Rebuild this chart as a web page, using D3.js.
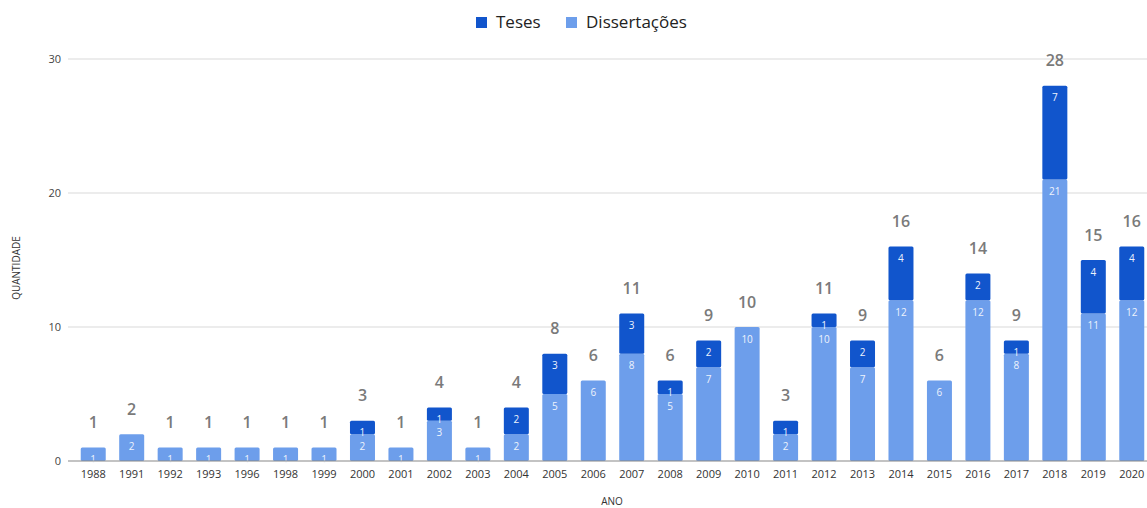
<!DOCTYPE html>
<html>
<head>
<meta charset="utf-8">
<script src="https://cdn.jsdelivr.net/npm/d3@7"></script>
<style>
  body { margin: 0; background: #fff; }
  svg { display: block; font-family: "Open Sans", sans-serif; }
</style>
</head>
<body>
<svg id="chart"></svg>
<script>
const years = ["1988","1991","1992","1993","1996","1998","1999","2000","2001","2002","2003","2004","2005","2006",
               "2007","2008","2009","2010","2011","2012","2013","2014","2015","2016","2017","2018","2019","2020"];
const dissertacoes = [1,2,1,1,1,1,1,2,1,3,1,2,5,6,8,5,7,10,2,10,7,12,6,12,8,21,11,12];
const teses        = [0,0,0,0,0,0,0,1,0,1,0,2,3,0,3,1,2,0,1,1,2,4,0,2,1,7,4,4];
const yTicks = [0, 10, 20, 30];
const seriesNames = ["Dissertações", "Teses"];

const width = 1147, height = 508;
const colors = { "Teses": "#1155cc", "Dissertações": "#6d9eeb" };

const svg = d3.select("#chart")
    .attr("width", width)
    .attr("height", height)
    .attr("viewBox", [0, 0, width, height]);

const rows = years.map((y, i) => ({ year: y, "Dissertações": dissertacoes[i], "Teses": teses[i] }));
const stacked = d3.stack().keys(seriesNames)(rows);

const x = d3.scaleBand(years, [74, 1151]).paddingInner(0.35).paddingOuter(0.175);
const y = d3.scaleLinear([0, 30], [461, 59]);

// gridlines
svg.append("g")
    .selectAll("line")
    .data(yTicks.filter(d => d > 0))
    .join("line")
        .attr("x1", 68)
        .attr("x2", width)
        .attr("y1", d => y(d))
        .attr("y2", d => y(d))
        .attr("stroke", "#d9d9d9")
        .attr("stroke-width", 1);

// y labels
svg.append("g")
    .selectAll("text")
    .data(yTicks)
    .join("text")
        .attr("x", 61)
        .attr("y", d => y(d))
        .attr("dy", "0.35em")
        .attr("text-anchor", "end")
        .attr("font-size", 11)
        .attr("fill", "#444")
        .text(d => d);

// bars
const layers = svg.append("g")
    .selectAll("g")
    .data(stacked)
    .join("g")
        .attr("fill", d => colors[d.key]);

layers.selectAll("rect")
    .data(d => d.filter(s => s[1] > s[0]))
    .join("rect")
        .attr("x", d => x(d.data.year))
        .attr("y", d => y(d[1]))
        .attr("width", x.bandwidth())
        .attr("height", d => y(d[0]) - y(d[1]))
        .attr("rx", 1.5);

// segment labels
layers.selectAll("text")
    .data(d => d.filter(s => s[1] > s[0]))
    .join("text")
        .attr("x", d => x(d.data.year) + x.bandwidth() / 2)
        .attr("y", d => y(d[1]) + 12)
        .attr("dy", "0.35em")
        .attr("text-anchor", "middle")
        .attr("font-size", 10)
        .attr("fill", "#eef3fc")
        .text(d => d[1] - d[0]);

// baseline
svg.append("line")
    .attr("x1", 68)
    .attr("x2", width)
    .attr("y1", y(0))
    .attr("y2", y(0))
    .attr("stroke", "#888")
    .attr("stroke-width", 1.2);

// totals
svg.append("g")
    .selectAll("text")
    .data(rows)
    .join("text")
        .attr("x", d => x(d.year) + x.bandwidth() / 2)
        .attr("y", d => y(d["Dissertações"] + d["Teses"]) - 25)
        .attr("dy", "0.35em")
        .attr("text-anchor", "middle")
        .attr("font-size", 16)
        .attr("font-weight", 600)
        .attr("fill", "#7a7a7a")
        .text(d => d["Dissertações"] + d["Teses"]);

// x tick labels
svg.append("g")
    .selectAll("text")
    .data(years)
    .join("text")
        .attr("x", d => x(d) + x.bandwidth() / 2)
        .attr("y", 474)
        .attr("dy", "0.35em")
        .attr("text-anchor", "middle")
        .attr("font-size", 11)
        .attr("fill", "#333")
        .text(d => d);

// axis titles
svg.append("text")
    .attr("x", 612)
    .attr("y", 505)
    .attr("text-anchor", "middle")
    .attr("font-size", 10)
    .attr("fill", "#333")
    .text("ANO");

svg.append("text")
    .attr("transform", `translate(16, 268) rotate(-90)`)
    .attr("text-anchor", "middle")
    .attr("dy", "0.35em")
    .attr("font-size", 10)
    .attr("fill", "#333")
    .text("QUANTIDADE");

// legend
const legend = svg.append("g").attr("transform", "translate(476, 22)");
const legendItems = [
    { name: "Teses", x: 0 },
    { name: "Dissertações", x: 90 }
];
legend.selectAll("rect")
    .data(legendItems)
    .join("rect")
        .attr("x", d => d.x)
        .attr("y", -5)
        .attr("width", 11)
        .attr("height", 11)
        .attr("fill", d => colors[d.name]);
legend.selectAll("text")
    .data(legendItems)
    .join("text")
        .attr("x", d => d.x + 20)
        .attr("y", 0)
        .attr("dy", "0.35em")
        .attr("font-size", 17)
        .attr("fill", "#222")
        .text(d => d.name);
</script>
</body>
</html>
